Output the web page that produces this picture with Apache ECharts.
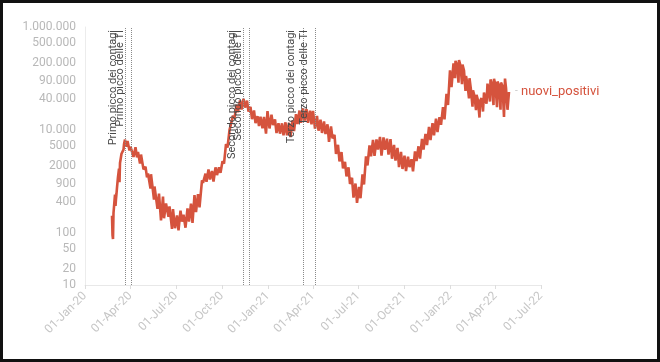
<!DOCTYPE html>
<html><head><meta charset="utf-8">
<script src="https://cdn.jsdelivr.net/npm/echarts@6/dist/echarts.min.js"></script>
<style>
html,body{margin:0;padding:0;background:#fff;}
#chart{position:absolute;left:0;top:0;width:660px;height:362px;}
#frame{position:absolute;left:0;top:0;width:660px;height:362px;box-sizing:border-box;border:3px solid #111;pointer-events:none;}
</style></head><body>
<div id="chart"></div><div id="frame"></div>
<script>
const xTicks = ['2020-01-01','2020-04-01','2020-07-01','2020-10-01','2021-01-01','2021-04-01','2021-07-01','2021-10-01','2022-01-01','2022-04-01','2022-07-01'];
const xTickLabels = ['01-Jan-20','01-Apr-20','01-Jul-20','01-Oct-20','01-Jan-21','01-Apr-21','01-Jul-21','01-Oct-21','01-Jan-22','01-Apr-22','01-Jul-22'];
const yTicks = [10,20,50,100,400,900,2000,5000,10000,40000,90000,200000,500000,1000000];
const yTickLabels = ['10','20','50','100','400','900','2000','5000','10.000','40.000','90.000','200.000','500.000','1.000.000'];
const seriesName = 'nuovi_positivi';
const peakDates = ['2020-03-21','2020-04-03','2020-11-13','2020-11-25','2021-03-12','2021-04-06'];
const peakLabels = ['Primo picco dei contagi','Primo picco delle TI','Secondo picco dei contagi','Secondo picco delle TI','Terzo picco dei contagi','Terzo picco delle TI'];

const positivi2020 = [
['2020-02-24',221],['2020-02-25',93],['2020-02-26',78],['2020-02-27',250],['2020-02-28',238],['2020-02-29',240],
['2020-03-01',566],['2020-03-02',342],['2020-03-03',466],['2020-03-04',587],['2020-03-05',769],['2020-03-06',778],
['2020-03-07',1247],['2020-03-08',1492],['2020-03-09',1797],['2020-03-10',977],['2020-03-11',2313],['2020-03-12',2651],
['2020-03-13',2547],['2020-03-14',3497],['2020-03-15',3590],['2020-03-16',3233],['2020-03-17',3526],['2020-03-18',4207],
['2020-03-19',5322],['2020-03-20',5986],['2020-03-21',6557],['2020-03-22',5560],['2020-03-23',4789],['2020-03-24',5249],
['2020-03-26',6153],['2020-03-28',5974],['2020-03-30',4050],['2020-04-01',4782],['2020-04-04',4805],['2020-04-07',3039],
['2020-04-11',4694],['2020-04-14',2972],['2020-04-16',3786],['2020-04-20',2256],['2020-04-22',3370],['2020-04-27',1739],
['2020-05-01',1965],['2020-05-04',1221],['2020-05-06',1444],['2020-05-11',744],['2020-05-12',1402],['2020-05-18',451],
['2020-05-19',813],['2020-05-25',300],['2020-05-28',593],['2020-06-01',178],['2020-06-05',518],['2020-06-07',197],
['2020-06-11',379],['2020-06-16',210],['2020-06-18',333],['2020-06-23',122],['2020-06-25',296],['2020-06-29',126],
['2020-07-03',223],['2020-07-06',114],['2020-07-10',276],['2020-07-13',169],['2020-07-16',230],['2020-07-20',129],
['2020-07-24',306],['2020-07-27',170],['2020-07-31',379],['2020-08-03',159],['2020-08-07',552],['2020-08-10',259],
['2020-08-14',574],['2020-08-17',320],['2020-08-22',1071],['2020-08-24',953],['2020-08-29',1444],['2020-08-31',996],
['2020-09-04',1733],['2020-09-07',1108],['2020-09-11',1616],['2020-09-14',1008],['2020-09-18',1907],['2020-09-21',1350],
['2020-09-25',1912],['2020-09-28',1494],['2020-10-02',2499],['2020-10-05',2257],['2020-10-09',5372],['2020-10-12',4619],
['2020-10-16',10010],['2020-10-19',9338],['2020-10-23',19143],['2020-10-26',17012],['2020-10-30',31084],['2020-11-02',22253],
['2020-11-06',37809],['2020-11-09',25271],['2020-11-13',40902],['2020-11-16',27354],['2020-11-20',37242],['2020-11-23',22930],
['2020-11-27',28352],['2020-11-30',16377],['2020-12-04',24099],['2020-12-07',13720],['2020-12-11',18727],['2020-12-14',12030],
['2020-12-17',18236],['2020-12-21',10872],['2020-12-24',18040],['2020-12-28',8585],['2020-12-31',23477]
];
const positivi2021 = [
['2021-01-04',10800],['2021-01-08',19978],['2021-01-11',12545],['2021-01-15',16146],['2021-01-18',8824],['2021-01-22',13633],
['2021-01-25',8561],['2021-01-29',13574],['2021-02-01',7925],['2021-02-05',14218],['2021-02-08',7970],['2021-02-12',13908],
['2021-02-15',7351],['2021-02-19',15479],['2021-02-22',9630],['2021-02-26',20499],['2021-03-01',13114],['2021-03-05',24036],
['2021-03-08',13902],['2021-03-12',26824],['2021-03-15',15267],['2021-03-19',25735],['2021-03-22',13846],['2021-03-26',23839],
['2021-03-29',12916],['2021-04-01',23649],['2021-04-05',10680],['2021-04-09',18938],['2021-04-12',9789],['2021-04-16',15943],
['2021-04-19',8864],['2021-04-23',14761],['2021-04-26',8444],['2021-04-30',12965],['2021-05-03',5948],['2021-05-07',11807],
['2021-05-10',6946],['2021-05-14',8085],['2021-05-17',3455],['2021-05-21',5218],['2021-05-24',2490],['2021-05-28',3757],
['2021-05-31',1820],['2021-06-04',2436],['2021-06-07',1273],['2021-06-11',1901],['2021-06-14',907],['2021-06-18',1197],
['2021-06-21',495],['2021-06-25',927],['2021-06-28',389],['2021-07-02',794],['2021-07-05',480],['2021-07-09',1394],
['2021-07-12',888],['2021-07-16',3127],['2021-07-19',2072],['2021-07-23',5057],['2021-07-26',3117],['2021-07-30',6513],
['2021-08-02',3190],['2021-08-06',6599],['2021-08-09',4200],['2021-08-13',7409],['2021-08-16',3206],['2021-08-20',7224],
['2021-08-23',4168],['2021-08-27',6860],['2021-08-30',3362],['2021-09-03',6735],['2021-09-06',2800],['2021-09-10',5193],
['2021-09-13',2569],['2021-09-17',4552],['2021-09-20',1932],['2021-09-24',3797],['2021-09-27',1772],['2021-10-01',3212],
['2021-10-04',1612],['2021-10-08',3053],['2021-10-11',1930],['2021-10-15',2732],['2021-10-18',1597],['2021-10-22',3882],
['2021-10-25',2535],['2021-10-29',4878],['2021-11-01',2818],['2021-11-05',6764],['2021-11-08',4197],['2021-11-12',8516],
['2021-11-15',5144],['2021-11-19',11555],['2021-11-22',6404],['2021-11-26',13686],['2021-11-29',7975],['2021-12-03',16806],
['2021-12-06',9185],['2021-12-10',17959],['2021-12-13',12712],['2021-12-17',28064],['2021-12-20',16213],['2021-12-24',50599],
['2021-12-27',30810],['2021-12-31',144243]
];
const positivi2022 = [
['2022-01-03',68052],['2022-01-07',197552],['2022-01-10',101762],['2022-01-11',220532],['2022-01-14',186253],['2022-01-17',83403],
['2022-01-18',228179],['2022-01-21',179000],['2022-01-24',77696],['2022-01-25',186740],['2022-01-28',143000],['2022-01-31',57715],
['2022-02-01',112691],['2022-02-04',77000],['2022-02-07',41247],['2022-02-08',101864],['2022-02-11',60000],['2022-02-14',28630],
['2022-02-15',59110],['2022-02-18',46000],['2022-02-21',24408],['2022-02-22',48690],['2022-02-25',38000],['2022-02-28',17591],
['2022-03-01',36429],['2022-03-04',42000],['2022-03-07',23000],['2022-03-09',53588],['2022-03-11',53000],['2022-03-14',32573],
['2022-03-16',79895],['2022-03-18',76000],['2022-03-21',36000],['2022-03-22',96365],['2022-03-25',77000],['2022-03-28',30710],
['2022-03-29',99457],['2022-04-01',74000],['2022-04-04',28000],['2022-04-05',88000],['2022-04-08',70000],['2022-04-11',25000],
['2022-04-12',83643],['2022-04-15',72000],['2022-04-18',18000],['2022-04-20',99848],['2022-04-22',66000],['2022-04-25',24878],
['2022-04-28',55000]
];

const lineColor = '#d5533d';
const toTime = d => echarts.time.parse(d).getTime();
const data = positivi2020.concat(positivi2021, positivi2022).map(p => [toTime(p[0]), p[1]]);
const xTickTimes = xTicks.map(toTime);

function xLabel(v) {
  let best = 0, bd = Infinity;
  xTickTimes.forEach((t, i) => { const dd = Math.abs(t - v); if (dd < bd) { bd = dd; best = i; } });
  return xTickLabels[best];
}
function yLabel(v) {
  let best = 0, bd = Infinity;
  yTicks.forEach((t, i) => { const dd = Math.abs(Math.log(t) - Math.log(v)); if (dd < bd) { bd = dd; best = i; } });
  return yTickLabels[best];
}

const chart = echarts.init(document.getElementById('chart'));
chart.setOption({
  animation: false,
  textStyle: { fontFamily: 'Roboto, sans-serif' },
  grid: { left: 85, right: 119, top: 27, bottom: 77 },
  xAxis: {
    type: 'value', min: xTickTimes[0], max: xTickTimes[xTickTimes.length - 1],
    axisLine: { show: true, lineStyle: { color: '#e8e8e8' } },
    axisTick: { show: true, customValues: xTickTimes, length: 4, lineStyle: { color: '#dddddd' } },
    axisLabel: { customValues: xTickTimes, rotate: 45, color: '#c6c6c6', fontSize: 12, margin: 9, formatter: xLabel, hideOverlap: false },
    splitLine: { show: false }
  },
  yAxis: {
    type: 'log', logBase: 10, min: 10, max: 1000000,
    axisLine: { show: true, lineStyle: { color: '#ececec' } },
    axisTick: { show: false },
    axisLabel: { customValues: yTicks, color: '#b8b8b8', fontSize: 12, margin: 9, formatter: yLabel },
    splitLine: { show: false }
  },
  series: [{
    name: seriesName, type: 'line', data: data, showSymbol: false,
    lineStyle: { width: 2.6, color: lineColor }, itemStyle: { color: lineColor },
    endLabel: { show: true, formatter: '{d|-} ' + seriesName, color: lineColor, fontSize: 13, distance: 6,
      rich: { d: { color: '#c8c8c8', fontSize: 10 } } },
    markLine: {
      symbol: 'none', silent: true, animation: false,
      lineStyle: { type: 'dotted', color: '#8a8a8a', width: 1 },
      label: { position: 'insideEndTop', color: '#4a4a4a', fontSize: 11, distance: [3, 6] },
      data: peakDates.map((d, i) => ({ xAxis: toTime(d), label: { formatter: peakLabels[i] } }))
    }
  }]
});
</script></body></html>
